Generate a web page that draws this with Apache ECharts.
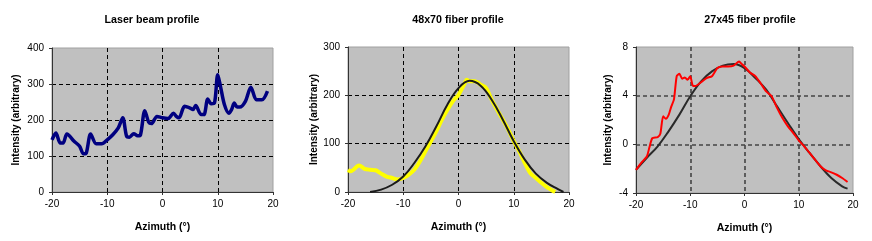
<!DOCTYPE html>
<html><head><meta charset="utf-8">
<script src="https://cdn.jsdelivr.net/npm/echarts@6/dist/echarts.min.js"></script>
<style>html,body{margin:0;padding:0;background:#fff}#c{width:872px;height:241px}</style>
</head><body><div id="c"></div>
<script>
// Panel titles and labels
const titles = ['Laser beam profile', '48x70 fiber profile', '27x45 fiber profile'];
const xName = 'Azimuth (°)';
const yName = 'Intensity (arbitrary)';

// Panel 1: laser beam profile
const laserX = [-20,-19.3,-18.5,-18,-17.3,-16,-15,-14.3,-13.8,-13,-12,-11,-10,-9,-8,-7.2,-6.5,-6,-5.2,-4.5,-4,-3.2,-2.5,-2,-1,0,1,2,2.5,3,4,5,5.5,6,7,7.5,8.2,8.8,9.4,10,10.5,11.2,12,12.5,13,13.5,14,15,16,17,18,19];
const laserY = [145,164,136,136,161,141,127,106,108,161,134,134,145,159,178,206,155,152,162,156,158,226,194,190,210,206,204,219,210,206,238,233,229,240,215,215,258,245,247,326,293,243,219,229,247,236,236,252,291,256,256,280];

// Panel 2: 48x70 fiber (measured = yellow, model = black)
const fib48X = [-20,-19.5,-18,-17,-16,-15,-14,-13,-12,-11,-10,-9,-8,-7,-6,-5,-4,-3,-2,-1,0,1,1.5,2,3,4,5,6,7,8,9,10,11,12,13,14,15,16,17,17.5];
const fib48Y = [46,43,55,48,46,45,38,32,29,26,29,36,46,63,84,105,126,150,170,188,201,222,232,229,229,222,215,191,170,150,129,105,84,60,39,29,19,10,3,0];
const fit48X = [-16,-14,-12,-10,-8,-6,-4,-2,0,2,4,6,8,10,12,14,16,18,19];
const fit48Y = [0,5,15,32,60,94,136,181,215,230,220,191,150,105,67,38,19,6,0];

// Panel 3: 27x45 fiber (measured = red, model = black)
const fib27X = [-20,-19,-18,-17.5,-17,-16,-15.5,-15,-14.5,-14,-13.5,-13,-12.5,-12,-11.5,-11,-10.5,-10,-9.5,-9,-8,-7,-6,-5,-4,-3,-2,-1,-0.5,0,1,2,3,4,5,6,7,8,9,10,11,12,13,14,15,16,17,18,19];
const fib27Y = [-2.1,-1.5,-1.0,-0.2,0.5,0.6,0.9,2.3,2.1,2.4,3.1,3.7,5.6,5.8,5.4,5.5,5.3,5.6,4.8,4.8,5.1,5.45,5.6,6.27,6.4,6.4,6.47,6.8,6.6,6.4,5.9,5.6,5.0,4.35,3.95,3.0,2.16,1.48,0.93,0.33,-0.16,-0.7,-1.26,-1.8,-2.14,-2.3,-2.5,-2.77,-3.1];
const fit27X = [-20,-18,-16,-14,-12,-10,-8,-6,-4,-2,0,2,4,6,8,10,12,14,16,18,19];
const fit27Y = [-2.1,-1.1,-0.16,1.07,2.44,3.95,5.18,6.0,6.47,6.6,6.27,5.45,4.49,3.12,1.75,0.44,-0.71,-1.8,-2.77,-3.45,-3.64];

// Axis ranges
const xRange = {min: -20, max: 20, interval: 10};
const yRanges = [{min: 0, max: 400, interval: 100}, {min: 0, max: 300, interval: 100}, {min: -4, max: 8, interval: 4}];

const pairs = (xs, ys) => xs.map((x, i) => [x, ys[i]]);
const FONT = '"Liberation Sans", Arial, sans-serif';

const grids = [
  {left: 52, top: 48, width: 221, height: 144},
  {left: 348, top: 47, width: 221, height: 145},
  {left: 636, top: 47, width: 217, height: 146}
];
const titleX = [147, 453, 745];
const yNameGap = [31, 29, 23];
const gridLineStyle = [
  {color: '#000', width: 1, type: [4, 3]},
  {color: '#000', width: 1, type: [4, 3]},
  {color: '#444', width: 1.6, type: [4, 3]}
];

const option = {
  animation: false,
  backgroundColor: '#fff',
  textStyle: {fontFamily: FONT},
  title: titles.map((t, i) => ({
    text: t, left: titleX[i], top: 10, textAlign: 'center',
    textStyle: {fontSize: 10.7, fontWeight: 'bold', color: '#000', fontFamily: FONT}
  })),
  grid: grids.map(g => Object.assign({show: true, backgroundColor: '#c0c0c0', borderWidth: 1, borderColor: '#a0a0a0'}, g)),
  xAxis: grids.map((g, i) => ({
    type: 'value', gridIndex: i, min: xRange.min, max: xRange.max, interval: xRange.interval,
    name: xName, nameLocation: 'middle', nameGap: 30,
    nameTextStyle: {fontSize: 10.5, fontWeight: 'bold', color: '#000', fontFamily: FONT},
    axisLine: {show: true, onZero: false, lineStyle: {color: '#333', width: 1}},
    axisTick: {show: true, length: 3, lineStyle: {color: '#333'}},
    axisLabel: {fontSize: 10, color: '#000', margin: 7, fontFamily: FONT},
    splitLine: {show: true, showMinLine: false, showMaxLine: false, lineStyle: gridLineStyle[i]}
  })),
  yAxis: grids.map((g, i) => ({
    type: 'value', gridIndex: i, min: yRanges[i].min, max: yRanges[i].max, interval: yRanges[i].interval,
    name: yName, nameLocation: 'middle', nameGap: yNameGap[i], nameRotate: 90,
    nameTextStyle: {fontSize: 10, fontWeight: 'bold', color: '#000', fontFamily: FONT},
    axisLine: {show: true, onZero: false, lineStyle: {color: '#333', width: 1}},
    axisTick: {show: true, length: 3, lineStyle: {color: '#333'}},
    axisLabel: {fontSize: 10, color: '#000', margin: 8, fontFamily: FONT},
    splitLine: {show: true, showMinLine: false, showMaxLine: false, lineStyle: gridLineStyle[i]}
  })),
  series: [
    {type: 'line', xAxisIndex: 0, yAxisIndex: 0, data: pairs(laserX, laserY), showSymbol: false, smooth: 0.3,
      lineStyle: {color: '#000080', width: 3.5}},
    {type: 'line', xAxisIndex: 1, yAxisIndex: 1, data: pairs(fib48X, fib48Y), showSymbol: false, smooth: 0.3,
      lineStyle: {color: '#ffff00', width: 4}},
    {type: 'line', xAxisIndex: 1, yAxisIndex: 1, data: pairs(fit48X, fit48Y), showSymbol: false, smooth: 0.4,
      lineStyle: {color: '#1a1a1a', width: 2}},
    {type: 'line', xAxisIndex: 2, yAxisIndex: 2, data: pairs(fit27X, fit27Y), showSymbol: false, smooth: 0.4,
      lineStyle: {color: '#2a2a2a', width: 2}},
    {type: 'line', xAxisIndex: 2, yAxisIndex: 2, data: pairs(fib27X, fib27Y), showSymbol: false, smooth: 0.2,
      lineStyle: {color: '#ff0000', width: 2}}
  ]
};
echarts.init(document.getElementById('c'), null, {renderer: 'canvas'}).setOption(option);
</script></body></html>
